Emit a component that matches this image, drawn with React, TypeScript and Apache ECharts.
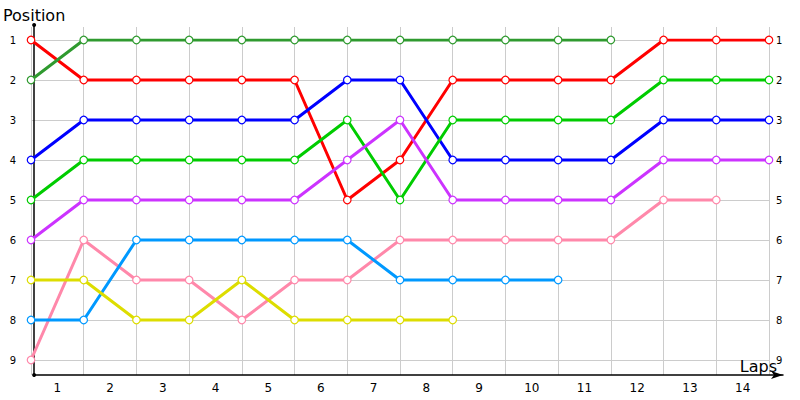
import {useEffect, useRef} from 'react';
import * as echarts from 'echarts';

// lap boundaries 0..14, labels for laps in between
const laps = ['1', '2', '3', '4', '5', '6', '7', '8', '9', '10', '11', '12', '13', '14'];

const redPos = [1, 2, 2, 2, 2, 2, 5, 4, 2, 2, 2, 2, 1, 1, 1];
const darkGreenPos = [2, 1, 1, 1, 1, 1, 1, 1, 1, 1, 1, 1, null, null, null];
const bluePos = [4, 3, 3, 3, 3, 3, 2, 2, 4, 4, 4, 4, 3, 3, 3];
const greenPos = [5, 4, 4, 4, 4, 4, 3, 5, 3, 3, 3, 3, 2, 2, 2];
const purplePos = [6, 5, 5, 5, 5, 5, 4, 3, 5, 5, 5, 5, 4, 4, 4];
const pinkPos = [9, 6, 7, 7, 8, 7, 7, 6, 6, 6, 6, 6, 5, 5, null];
const lightBluePos = [8, 8, 6, 6, 6, 6, 6, 7, 7, 7, 7, null, null, null, null];
const yellowPos = [7, 7, 8, 8, 7, 8, 8, 8, 8, null, null, null, null, null, null];

const drivers = [
    {name: 'red', color: '#ff0000', data: redPos},
    {name: 'darkgreen', color: '#2f9a2f', data: darkGreenPos},
    {name: 'blue', color: '#0000ff', data: bluePos},
    {name: 'green', color: '#00cc00', data: greenPos},
    {name: 'purple', color: '#cc33ff', data: purplePos},
    {name: 'pink', color: '#ff88aa', data: pinkPos},
    {name: 'lightblue', color: '#0099ff', data: lightBluePos},
    {name: 'yellow', color: '#dddd00', data: yellowPos},
];

const font = 'DejaVu Sans';

export default function App() {
    const ref = useRef<HTMLDivElement | null>(null);

    useEffect(() => {
        if (!ref.current) return;
        const chart = echarts.init(ref.current, null, {renderer: 'svg'});

        chart.setOption({
            animation: false,
            textStyle: {fontFamily: font},
            grid: [
                // data grid
                {left: 31, right: 31, top: 40, bottom: 40},
                // vertical split lines
                {left: 31, right: 31, top: 27, bottom: 25},
                // axis lines
                {left: 31, right: 17, top: 25, bottom: 25},
            ],
            xAxis: [
                {
                    type: 'value', gridIndex: 0, min: 0, max: 14, interval: 1,
                    axisLine: {show: false}, axisTick: {show: false}, axisLabel: {show: false},
                    splitLine: {show: false}
                },
                {
                    type: 'value', gridIndex: 1, min: 0, max: 14, interval: 1,
                    axisLine: {show: false}, axisTick: {show: false}, axisLabel: {show: false},
                    splitLine: {show: true, lineStyle: {color: '#cccccc', width: 1}}
                },
                {
                    type: 'category', gridIndex: 1, data: laps, boundaryGap: true, position: 'bottom',
                    axisLine: {show: false}, axisTick: {show: false},
                    axisLabel: {color: '#000', fontSize: 12, margin: 7, fontFamily: font}
                },
                {
                    type: 'value', gridIndex: 2, min: 0, max: 1,
                    axisLine: {
                        show: true, lineStyle: {color: '#000', width: 1.5},
                        symbol: ['none', 'arrow'], symbolSize: [6, 12]
                    },
                    axisTick: {show: false}, axisLabel: {show: false}, splitLine: {show: false},
                    name: 'Laps', nameLocation: 'end', nameGap: -6,
                    nameTextStyle: {
                        color: '#000', fontSize: 16, fontFamily: font,
                        align: 'right', verticalAlign: 'bottom', padding: [0, 0, 1, 0]
                    }
                },
            ],
            yAxis: [
                {
                    type: 'value', gridIndex: 0, min: 1, max: 9, interval: 1, inverse: true,
                    position: 'left',
                    axisLine: {show: false}, axisTick: {show: false},
                    axisLabel: {color: '#000', fontSize: 10, margin: 15, fontFamily: font},
                    splitLine: {show: true, lineStyle: {color: '#cccccc', width: 1}}
                },
                {
                    type: 'value', gridIndex: 0, min: 1, max: 9, interval: 1, inverse: true,
                    position: 'right',
                    axisLine: {show: false}, axisTick: {show: false},
                    axisLabel: {color: '#000', fontSize: 10, margin: 7, fontFamily: font},
                    splitLine: {show: false}
                },
                {
                    type: 'value', gridIndex: 1, min: 0, max: 1, show: false
                },
                {
                    type: 'value', gridIndex: 2, min: 0, max: 1,
                    axisLine: {
                        show: true, lineStyle: {color: '#000', width: 1.5},
                        symbol: ['circle', 'circle'], symbolSize: [4, 4]
                    },
                    axisTick: {show: false}, axisLabel: {show: false}, splitLine: {show: false},
                    name: 'Position', nameLocation: 'end', nameGap: 2,
                    nameTextStyle: {
                        color: '#000', fontSize: 16, fontFamily: font,
                        align: 'center', verticalAlign: 'bottom'
                    }
                },
            ],
            series: drivers.map(d => ({
                name: d.name,
                type: 'line',
                xAxisIndex: 0,
                yAxisIndex: 0,
                data: d.data.map((p, i) => [i, p]),
                connectNulls: false,
                symbol: 'circle',
                symbolSize: 7.5,
                showAllSymbol: true,
                lineStyle: {color: d.color, width: 3},
                itemStyle: {color: '#ffffff', borderColor: d.color, borderWidth: 1.2},
                emphasis: {disabled: true},
            })),
        });

        return () => chart.dispose();
    }, []);

    return <div ref={ref} style={{width: 800, height: 400, position: 'absolute', left: 0, top: 0}}/>;
}
